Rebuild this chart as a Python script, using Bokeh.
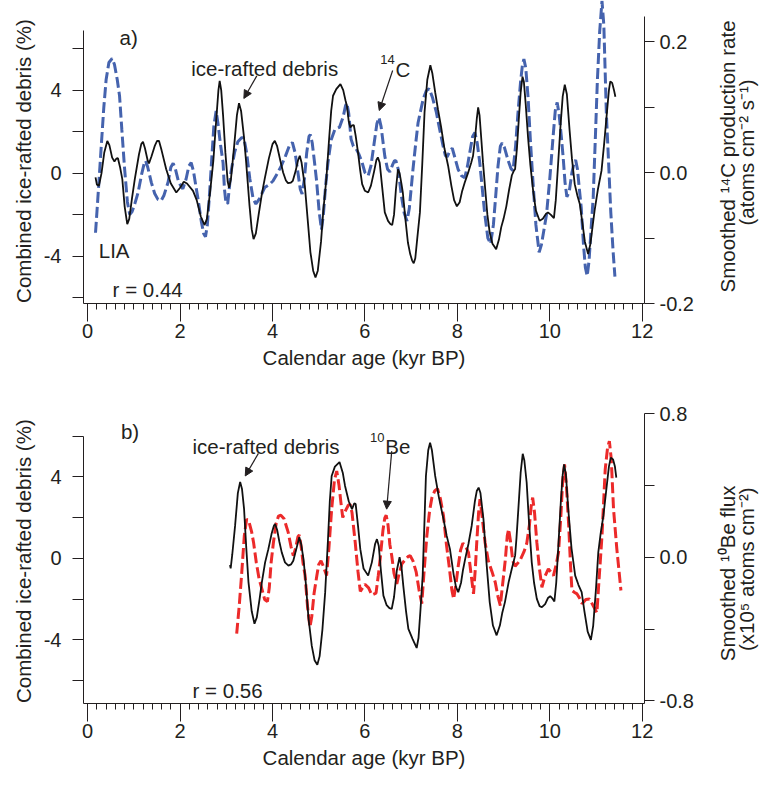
import math
from bokeh.plotting import figure
from bokeh.models import Range1d, LinearAxis, FixedTicker, Arrow, NormalHead, Label, PrintfTickFormatter
from bokeh.layouts import column, row
from bokeh.embed import file_html
from bokeh.resources import INLINE

# ---------------- data ----------------
# Panel a: combined ice-rafted debris (%)
ird_a_age = [0.17, 0.20, 0.245, 0.30, 0.36, 0.425, 0.47, 0.53, 0.58, 0.62, 0.655, 0.70, 0.75, 0.80,
             0.857, 0.90, 0.96, 1.02, 1.11, 1.16, 1.197, 1.24, 1.30, 1.327, 1.38, 1.45, 1.50, 1.543,
             1.60, 1.70, 1.80, 1.918, 2.00, 2.08, 2.15, 2.28, 2.36, 2.45, 2.53, 2.58, 2.65, 2.72, 2.78,
             2.83, 2.857, 2.89, 2.93, 2.98, 3.03, 3.06, 3.10, 3.17, 3.23, 3.275, 3.32, 3.38, 3.43, 3.50,
             3.55, 3.59, 3.64, 3.70, 3.77, 3.83, 3.92, 4.00, 4.05, 4.10, 4.17, 4.23, 4.29, 4.335, 4.40,
             4.44, 4.50, 4.55, 4.59, 4.63, 4.66, 4.70, 4.76, 4.82, 4.88, 4.93, 4.98, 5.05, 5.10, 5.165,
             5.22, 5.27, 5.31, 5.38, 5.47, 5.53, 5.58, 5.61, 5.65, 5.685, 5.72, 5.76, 5.80, 5.85, 5.90,
             5.94, 6.00, 6.07, 6.13, 6.20, 6.25, 6.28, 6.32, 6.37, 6.43, 6.50, 6.55, 6.59, 6.63, 6.67,
             6.715, 6.75, 6.79, 6.82, 6.88, 6.93, 6.98, 7.02, 7.056, 7.09, 7.13, 7.19, 7.24, 7.29, 7.35,
             7.416, 7.46, 7.52, 7.58, 7.65, 7.72, 7.80, 7.87, 7.93, 7.99, 8.05, 8.10, 8.16, 8.23, 8.30,
             8.34, 8.38, 8.42, 8.45, 8.48, 8.52, 8.555, 8.60, 8.65, 8.70, 8.76, 8.84, 8.90, 8.95, 9.00,
             9.06, 9.12, 9.18, 9.22, 9.25, 9.29, 9.33, 9.37, 9.41, 9.44, 9.48, 9.53, 9.58, 9.64, 9.70,
             9.78, 9.85, 9.92, 9.96, 10.02, 10.09, 10.13, 10.18, 10.23, 10.28, 10.325, 10.37, 10.43,
             10.48, 10.54, 10.60, 10.65, 10.70, 10.76, 10.83, 10.88, 10.93, 10.97, 11.04, 11.12, 11.18,
             11.24, 11.28, 11.31, 11.35, 11.39, 11.42]
ird_a_pct = [-0.2, -0.55, -0.6, 0.0, 1.0, 1.55, 1.35, 0.75, 0.56, 0.7, 0.72, 0.3, -0.29, -1.6,
             -2.46, -2.2, -1.2, -0.29, 0.9, 1.4, 1.51, 1.2, 0.6, 0.47, 0.8, 1.3, 1.55, 1.56,
             1.1, 0.19, -0.5, -0.93, -0.7, -0.41, -0.5, -0.85, -1.3, -2.1, -2.5, -2.2, -0.9, 0.6, 2.5,
             4.0, 4.45, 4.0, 2.8, 1.0, -0.4, -0.7, -0.3, 1.3, 2.8, 3.37, 3.0, 1.8, 0.52, -1.5,
             -2.7, -3.18, -2.9, -2.0, -1.0, -0.29, 0.7, 1.4, 1.56, 1.3, 0.6, 0.03, -0.35, -0.48, -0.45,
             -0.37, 0.1, 0.6, 0.84, 0.5, 0.0, -0.61, -2.2, -3.8, -4.7, -5.03, -4.7, -3.3, -1.8, -0.29,
             1.5, 3.0, 3.73, 4.05, 4.29, 4.0, 3.5, 3.25, 2.5, 2.2, 2.3, 2.31, 1.8, 1.0, 0.1,
             -0.53, -0.85, -0.93, -0.6, 0.1, 0.65, 0.76, 0.5, -0.6, -1.89, -2.3, -2.45, -2.5, -2.0, -0.8,
             0.19, 0.0, -0.5, -0.93, -2.3, -3.34, -3.9, -4.2, -4.34, -4.1, -3.2, -1.89, 0.4, 2.93, 4.5,
             5.2, 4.8, 3.9, 3.08, 2.2, 1.2, 0.36, -0.6, -1.3, -1.6, -1.4, -0.9, -0.45, 0.0, 0.5,
             0.84, 1.6, 2.6, 3.17, 2.8, 1.6, 0.52, -0.7, -2.0, -2.86, -3.4, -3.66, -3.2, -2.6, -2.2,
             -1.6, -0.8, -0.1, 0.1, 0.2, 1.2, 2.6, 3.9, 4.65, 4.4, 3.3, 1.72, 0.4, -0.85, -1.8,
             -2.29, -2.2, -1.95, -1.89, -2.0, -2.17, -1.3, 0.43, 2.2, 3.7, 4.26, 3.8, 2.04,
             0.7, -0.53, -1.1, -1.49, -2.3, -3.3, -3.9, -3.4, -2.5, -1.81, -0.8, 0.12, 1.5,
             3.0, 4.0, 4.42, 4.35, 4.0, 3.68]

# Panel a: smoothed 14C production rate (atoms cm-2 s-1)
c14_age = [0.17, 0.22, 0.295, 0.35, 0.40, 0.46, 0.53, 0.58, 0.64, 0.69, 0.74, 0.80, 0.86, 0.91, 0.96,
           1.02, 1.09, 1.17, 1.22, 1.255, 1.30, 1.377, 1.45, 1.52, 1.59, 1.65, 1.74, 1.80, 1.85, 1.90,
           1.97, 2.06, 2.13, 2.19, 2.24, 2.29, 2.34, 2.39, 2.46, 2.51, 2.55, 2.59, 2.64, 2.68, 2.73,
           2.78, 2.82, 2.87, 2.93, 2.96, 2.99, 3.03, 3.10, 3.18, 3.25, 3.33, 3.38, 3.44, 3.51, 3.58,
           3.64, 3.72, 3.83, 3.92, 4.01, 4.10, 4.19, 4.28, 4.36, 4.43, 4.49, 4.55, 4.60, 4.64, 4.69,
           4.74, 4.79, 4.82, 4.86, 4.91, 4.95, 5.01, 5.06, 5.10, 5.15, 5.20, 5.27, 5.35, 5.45, 5.53,
           5.58, 5.61, 5.65, 5.70, 5.75, 5.81, 5.87, 5.94, 6.00, 6.07, 6.13, 6.20, 6.26, 6.305, 6.35,
           6.43, 6.49, 6.54, 6.60, 6.64, 6.67, 6.72, 6.79, 6.85, 6.91, 6.96, 7.04, 7.10, 7.15, 7.26,
           7.33, 7.39, 7.46, 7.545, 7.62, 7.69, 7.74, 7.78, 7.84, 7.89, 7.95, 8.015, 8.09, 8.16, 8.22,
           8.27, 8.33, 8.38, 8.43, 8.485, 8.54, 8.59, 8.66, 8.72, 8.78, 8.83, 8.88, 8.93, 8.97, 9.02,
           9.10, 9.16, 9.205, 9.26, 9.31, 9.37, 9.41, 9.44, 9.48, 9.53, 9.58, 9.64, 9.70, 9.77, 9.82,
           9.88, 9.93, 10.00, 10.07, 10.12, 10.16, 10.20, 10.25, 10.29, 10.33, 10.37, 10.42, 10.48,
           10.53, 10.56, 10.60, 10.64, 10.68, 10.73, 10.77, 10.81, 10.85, 10.90, 10.94, 10.99, 11.03,
           11.08, 11.13, 11.17, 11.225, 11.27, 11.32, 11.37, 11.41]
c14_rate = [-0.092, -0.04, 0.041, 0.10, 0.142, 0.168, 0.174, 0.165, 0.142, 0.117, 0.065, 0.005, -0.045,
            -0.064, -0.060, -0.048, -0.031, -0.002, 0.013, 0.018, 0.008, -0.015, -0.032, -0.041, -0.043,
            -0.035, -0.015, 0.008, 0.014, 0.005, -0.015, -0.025, -0.010, 0.010, 0.015, 0.002, -0.020,
            -0.041, -0.075, -0.093, -0.098, -0.080, -0.030, 0.015, 0.070, 0.094, 0.075, 0.045, 0.015,
            -0.025, -0.045, -0.048, 0.000, 0.031, 0.047, 0.053, 0.053, 0.030, -0.010, -0.040, -0.048,
            -0.040, -0.023, -0.019, -0.013, -0.002, 0.010, 0.025, 0.040, 0.046, 0.030, 0.0, -0.025,
            -0.033, -0.010, 0.030, 0.055, 0.058, 0.045, 0.015, -0.010, -0.060, -0.087, -0.065, -0.020,
            0.015, 0.050, 0.066, 0.069, 0.085, 0.102, 0.106, 0.090, 0.051, 0.040, 0.036, 0.028, 0.015,
            0.000, -0.005, 0.010, 0.045, 0.075, 0.084, 0.070, 0.025, 0.005, 0.001, 0.012, 0.018, 0.018,
            0.005, -0.036, -0.062, -0.074, -0.055, 0.005, 0.045, 0.076, 0.112, 0.125, 0.128, 0.115,
            0.092, 0.065, 0.041, 0.026, 0.024, 0.033, 0.037, 0.022, 0.005, -0.005, -0.008, 0.010, 0.031,
            0.055, 0.061, 0.045, 0.015, -0.025, -0.061, -0.100, -0.109, -0.080, -0.036, 0.010, 0.040,
            0.045, 0.038, 0.018, 0.006, 0.003, 0.040, 0.089, 0.140, 0.165, 0.173, 0.160, 0.115, 0.050,
            -0.018, -0.080, -0.122, -0.110, -0.085, -0.064, -0.010, 0.053, 0.095, 0.107, 0.090, 0.055,
            0.023, -0.015, -0.037, -0.030, 0.000, 0.016, 0.019, 0.005, -0.025, -0.053, -0.110, -0.145,
            -0.158, -0.135, -0.080, -0.038, 0.060, 0.140, 0.215, 0.262, 0.225, 0.089, 0.020, -0.060,
            -0.120, -0.159]

# Panel b: combined ice-rafted debris (%)
ird_b_age = [3.08, 3.095, 3.13, 3.19, 3.25, 3.30, 3.34, 3.385, 3.43, 3.48, 3.55, 3.61, 3.66, 3.72, 3.77,
             3.84, 3.91, 3.98, 4.03, 4.055, 4.10, 4.15, 4.20, 4.27, 4.345, 4.40, 4.45, 4.52, 4.58, 4.62,
             4.67, 4.72, 4.78, 4.85, 4.91, 4.97, 5.02, 5.08, 5.14, 5.20, 5.24, 5.28, 5.35, 5.45, 5.52,
             5.57, 5.65, 5.72, 5.77, 5.80, 5.85, 5.90, 5.97, 6.07, 6.15, 6.22, 6.26, 6.30, 6.35, 6.40,
             6.47, 6.53, 6.58, 6.63, 6.69, 6.75, 6.79, 6.83, 6.89, 6.94, 7.03, 7.08, 7.12, 7.16, 7.20,
             7.25, 7.29, 7.32, 7.37, 7.41, 7.45, 7.52, 7.60, 7.70, 7.77, 7.84, 7.92, 7.97, 8.02, 8.08,
             8.12, 8.17, 8.24, 8.31, 8.38, 8.42, 8.46, 8.50, 8.565, 8.63, 8.70, 8.77, 8.85, 8.92, 8.97,
             9.03, 9.11, 9.18, 9.25, 9.28, 9.32, 9.37, 9.415, 9.45, 9.50, 9.55, 9.61, 9.66, 9.72, 9.78,
             9.83, 9.90, 9.96, 10.01, 10.05, 10.10, 10.14, 10.19, 10.24, 10.28, 10.31, 10.35, 10.40,
             10.47, 10.55, 10.62, 10.69, 10.75, 10.82, 10.89, 10.94, 11.00, 11.05, 11.10, 11.16, 11.22,
             11.28, 11.32, 11.37, 11.41, 11.44]
ird_b_pct = [-0.33, -0.49, 0.2, 1.59, 3.2, 3.75, 3.4, 2.41, 0.6, -1.17, -2.6, -3.21, -2.9, -2.0, -1.17,
             -0.2, 0.45, 1.2, 1.6, 1.68, 1.4, 0.8, 0.29, -0.2, -0.36, -0.3, -0.12, 0.5, 1.03, 0.7,
             -0.03, -1.2, -2.97, -4.3, -5.0, -5.22, -4.8, -3.5, -1.66, 0.9, 2.8, 4.04, 4.5, 4.72, 4.2,
             3.55, 2.8, 2.41, 2.7, 2.66, 1.6, 0.45, -0.5, -0.85, -0.2, 0.7, 0.94, 0.6, -0.7, -1.83,
             -2.3, -2.45, -2.48, -1.9, -0.6, 0.05, -0.4, -1.34, -2.6, -3.46, -3.95, -4.2, -4.40, -3.9, -2.6,
             -0.85, 1.9, 4.04, 5.3, 5.67, 5.3, 4.04, 3.0, 1.92, 1.1, 0.45, -0.8, -1.4, -1.66, -1.2,
             -0.6, -0.03, 0.7, 1.59, 2.8, 3.3, 3.47, 3.2, 1.92, -0.2, -2.15, -3.3, -3.78, -3.3, -2.7,
             -2.15, -1.17, -0.5, 0.13, 1.0, 2.41, 4.2, 5.13, 4.8, 3.72, 1.8, -0.2, -1.2, -1.99, -2.35,
             -2.40, -2.25, -1.95, -1.86, -1.95, -2.12, -1.2, 0.78, 2.8, 4.1, 4.61, 4.1, 2.41,
             0.5, -0.85, -1.3, -1.66, -2.6, -3.6, -4.0, -3.3, -1.5, 0.29, 1.2, 2.08, 3.3,
             4.5, 4.94, 4.85, 4.5, 3.96]

# Panel b: smoothed 10Be flux (x10^5 atoms cm-2)
be10_age = [3.225, 3.28, 3.33, 3.39, 3.44, 3.49, 3.55, 3.59, 3.65, 3.71, 3.77, 3.83, 3.89, 3.93, 3.97,
            4.02, 4.08, 4.13, 4.18, 4.25, 4.34, 4.40, 4.45, 4.50, 4.55, 4.58, 4.62, 4.66, 4.705, 4.76,
            4.81, 4.85, 4.90, 4.96, 5.00, 5.05, 5.10, 5.17, 5.22, 5.28, 5.34, 5.39, 5.44, 5.48, 5.52,
            5.58, 5.64, 5.68, 5.72, 5.79, 5.85, 5.90, 5.95, 6.00, 6.08, 6.15, 6.24, 6.29, 6.33, 6.39,
            6.43, 6.46, 6.50, 6.54, 6.58, 6.63, 6.69, 6.74, 6.80, 6.88, 6.94, 6.98, 7.04, 7.11, 7.17,
            7.23, 7.28, 7.34, 7.40, 7.45, 7.51, 7.57, 7.63, 7.70, 7.76, 7.83, 7.88, 7.92, 7.97, 8.02,
            8.07, 8.12, 8.18, 8.24, 8.30, 8.35, 8.39, 8.42, 8.46, 8.49, 8.53, 8.60, 8.67, 8.75, 8.82,
            8.88, 8.93, 8.98, 9.04, 9.08, 9.11, 9.15, 9.20, 9.25, 9.35, 9.44, 9.50, 9.56, 9.60, 9.63,
            9.67, 9.72, 9.78, 9.83, 9.89, 9.97, 10.02, 10.08, 10.14, 10.19, 10.24, 10.28, 10.32, 10.36,
            10.41, 10.45, 10.48, 10.53, 10.59, 10.65, 10.70, 10.78, 10.86, 10.94, 11.02, 11.06, 11.13,
            11.20, 11.25, 11.29, 11.33, 11.38, 11.45, 11.54]
be10_flux = [-0.426, -0.27, -0.102, 0.12, 0.213, 0.2, 0.14, 0.083, -0.03, -0.12, -0.176, -0.235, -0.247,
             -0.17, -0.03, 0.083, 0.19, 0.23, 0.235, 0.215, 0.139, 0.06, 0.009, 0.05, 0.115, 0.124, 0.06,
             -0.03, -0.102, -0.28, -0.389, -0.33, -0.2, -0.102, -0.04, -0.019, -0.05, -0.102, 0.05, 0.268,
             0.43, 0.481, 0.40, 0.306, 0.222, 0.26, 0.29, 0.296, 0.25, 0.083, -0.08, -0.19, -0.17, -0.15,
             -0.17, -0.21, -0.2, -0.1, -0.009, 0.15, 0.22, 0.235, 0.18, 0.07, 0.009, -0.09, -0.148, -0.09,
             -0.037, -0.01, 0.005, 0.009, -0.02, -0.083, -0.18, -0.259, -0.08, 0.12, 0.26, 0.333, 0.37,
             0.383, 0.33, 0.231, 0.08, -0.065, -0.18, -0.232, -0.15, -0.047, 0.04, 0.079, 0.06, 0.028,
             -0.10, -0.204, -0.06, 0.083, 0.25, 0.324, 0.24, 0.083, -0.019, -0.08, -0.139, -0.22, -0.269,
             -0.15, -0.009, 0.12, 0.157, 0.09, -0.02, -0.05, -0.02, 0.03, 0.075, 0.18, 0.29, 0.333, 0.25,
             0.083, -0.07, -0.167, -0.11, -0.065, -0.08, -0.102, -0.04, 0.028, 0.23, 0.43, 0.518, 0.40,
             0.176, -0.05, -0.185, -0.195, -0.204, -0.23, -0.259, -0.235, -0.232, -0.27, -0.309, -0.15,
             0.12, 0.49, 0.61, 0.648, 0.55, 0.268, 0.05, -0.185]

# axis ticks and titles
x_major = [0, 2, 4, 6, 8, 10, 12]
ird_ticks = [-6, -4, -2, 0, 2, 4, 6]
ird_unlabelled = [-6, -2, 2, 6]
c14_ticks = [-0.2, -0.1, 0.0, 0.1, 0.2]
be10_ticks = [-0.8, -0.4, 0.0, 0.4, 0.8]
x_title = "Calendar age (kyr BP)"
ird_title = "Combined ice-rafted debris (%)"
c14_title = ["Smoothed \u00b9\u2074C production rate", "(atoms cm\u207b\u00b2 s\u207b\u00b9)"]
be10_title = ["Smoothed \u00b9\u2070Be flux", "(x10\u2075 atoms cm\u207b\u00b2)"]

# ---------------- style ----------------
FONT = "Liberation Sans"
INK = "#231f20"
BLUE = "#4563ae"
RED = "#ec2a2a"
TICK_FS = "20px"
FS = "20.5px"
LEFT_W, MAIN_W, RIGHT_W = 40, 656, 63
YA = (-6.28, 8.32)
YB = (-7.125, 7.105)


def style_common(p):
    p.xgrid.visible = False
    p.ygrid.visible = False
    p.outline_line_color = None
    p.background_fill_color = "white"
    p.border_fill_color = "white"


def style_x(ax):
    ax.ticker = FixedTicker(ticks=x_major, minor_ticks=[i * 0.2 for i in range(61)])
    ax.major_tick_out = 18
    ax.major_tick_in = 0
    ax.minor_tick_out = 6
    ax.minor_tick_in = 0
    ax.axis_line_color = INK
    ax.major_tick_line_color = INK
    ax.minor_tick_line_color = INK
    ax.major_label_text_font = FONT
    ax.major_label_text_font_size = TICK_FS
    ax.major_label_text_color = INK
    ax.major_label_standoff = 2
    ax.axis_label = x_title
    ax.axis_label_text_font = FONT
    ax.axis_label_text_font_size = FS
    ax.axis_label_text_font_style = "normal"
    ax.axis_label_text_color = INK
    ax.axis_label_standoff = 5


def style_left(ax, bounds):
    ax.ticker = FixedTicker(ticks=ird_ticks)
    ax.formatter = PrintfTickFormatter(format="%d")
    ax.major_label_overrides = {t: "" for t in ird_unlabelled}
    ax.bounds = bounds
    ax.major_tick_out = 11
    ax.major_tick_in = 0
    ax.minor_tick_out = 0
    ax.minor_tick_in = 0
    ax.axis_line_color = INK
    ax.major_tick_line_color = INK
    ax.major_label_text_font = FONT
    ax.major_label_text_font_size = TICK_FS
    ax.major_label_text_color = INK
    ax.major_label_standoff = 11


def right_axis(range_name, ticks, unlabelled, bounds):
    ax = LinearAxis(y_range_name=range_name, ticker=FixedTicker(ticks=ticks),
                    formatter=PrintfTickFormatter(format="%.1f"))
    ax.major_label_overrides = {t: "" for t in unlabelled}
    ax.bounds = bounds
    ax.major_tick_out = 10
    ax.major_tick_in = 0
    ax.minor_tick_out = 0
    ax.minor_tick_in = 0
    ax.axis_line_color = INK
    ax.major_tick_line_color = INK
    ax.major_label_text_font = FONT
    ax.major_label_text_font_size = TICK_FS
    ax.major_label_text_color = INK
    ax.major_label_standoff = 5
    return ax


def lab(p, x, y, s, size=FS, angle=0.0):
    p.add_layout(Label(x=x, y=y, text=s, text_font=FONT, text_font_size=size, text_color=INK,
                       text_align="left", text_baseline="alphabetic", angle=angle))


def arrow(p, x0, y0, x1, y1):
    p.add_layout(Arrow(end=NormalHead(size=8, line_color=INK, fill_color=INK, line_width=1),
                       x_start=x0, y_start=y0, x_end=x1, y_end=y1, line_color=INK, line_width=1.2))


def title_strip(width, height, yr, borders, items):
    # items: (x of text baseline in px from strip's left, y of text start in the panel's
    # left-axis units, text); the text is turned to read upwards from its start.
    s = figure(width=width, height=height, x_range=Range1d(0, width), y_range=Range1d(*yr),
               output_backend="svg", toolbar_location=None,
               min_border_left=0, min_border_right=0,
               min_border_top=borders[0], min_border_bottom=borders[1])
    style_common(s)
    s.xaxis.visible = False
    s.yaxis.visible = False
    for x, y, t in items:
        lab(s, x, y, t, angle=math.pi / 2)
    return s


# ---------------- panel a ----------------
HA = 375
pa = figure(width=MAIN_W, height=HA, x_range=Range1d(-0.09, 12.05), y_range=Range1d(*YA),
            output_backend="svg", toolbar_location=None,
            min_border_left=43, min_border_right=52, min_border_top=0, min_border_bottom=72)
style_common(pa)
pa.extra_y_ranges = {"c14": Range1d(-0.2, 0.2626)}
style_x(pa.xaxis[0])
style_left(pa.yaxis[0], (-6.28, 6.88))
pa.add_layout(right_axis("c14", c14_ticks, [-0.1, 0.1], (-0.2, 0.238)), "right")

pa.line(c14_age, c14_rate, y_range_name="c14", line_color=BLUE, line_width=3, line_dash="11 4")
pa.line(ird_a_age, ird_a_pct, line_color="#111111", line_width=1.8)

lab(pa, 0.69, 6.52, "a)")
lab(pa, 2.24, 5.02, "ice-rafted debris")
lab(pa, 6.33, 5.49, "14", size="13px")
lab(pa, 6.66, 4.98, "C")
lab(pa, 0.24, -3.74, "LIA")
lab(pa, 0.54, -5.59, "r = 0.44")
arrow(pa, 3.66, 4.69, 3.38, 3.6)
arrow(pa, 6.60, 4.95, 6.31, 3.02)

la = title_strip(LEFT_W, HA, YA, (0, 72), [(23, -6.25, ird_title)])
ra = title_strip(RIGHT_W, HA, YA, (0, 72), [(30.5, -5.75, c14_title[0]), (49.5, -2.52, c14_title[1])])

# ---------------- panel b ----------------
HB = 396
pb = figure(width=MAIN_W, height=HB, x_range=Range1d(-0.09, 12.05), y_range=Range1d(*YB),
            output_backend="svg", toolbar_location=None,
            min_border_left=43, min_border_right=52, min_border_top=38, min_border_bottom=68)
style_common(pb)
pb.extra_y_ranges = {"be10": Range1d(-0.815, 0.8017)}
style_x(pb.xaxis[0])
style_left(pb.yaxis[0], (-7.125, 6.0))
pb.add_layout(right_axis("be10", be10_ticks, [-0.4, 0.4], (-0.815, 0.8)), "right")

pb.line(be10_age, be10_flux, y_range_name="be10", line_color=RED, line_width=3, line_dash="11 4")
pb.line(ird_b_age, ird_b_pct, line_color="#111111", line_width=1.8)

lab(pb, 0.72, 6.24, "b)")
lab(pb, 2.27, 5.51, "ice-rafted debris")
lab(pb, 6.11, 5.92, "10", size="13px")
lab(pb, 6.44, 5.51, "Be")
lab(pb, 2.27, -6.47, "r = 0.56")
arrow(pb, 3.695, 5.15, 3.41, 4.04)
arrow(pb, 6.58, 5.26, 6.47, 2.41)

lb = title_strip(LEFT_W, HB, YB, (38, 68), [(23, -7.10, ird_title)])
rb = title_strip(RIGHT_W, HB, YB, (38, 68), [(30.5, -5.05, be10_title[0]), (49.5, -4.55, be10_title[1])])

layout = column(row(la, pa, ra), row(lb, pb, rb))
open("out.html", "w").write(file_html(layout, INLINE))
